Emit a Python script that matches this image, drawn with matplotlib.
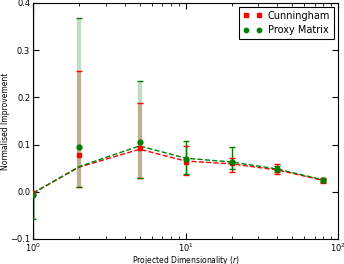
import matplotlib
matplotlib.use('Agg')
import matplotlib.pyplot as plt
import numpy as np

# Data
dims = [1, 2, 5, 10, 20, 40, 80]

# dashed mean lines
cun_line = [-0.003, 0.052, 0.090, 0.065, 0.059, 0.046, 0.024]
prx_line = [-0.003, 0.053, 0.097, 0.071, 0.063, 0.048, 0.025]

# markers
cun_mark = [-0.003, 0.078, 0.092, 0.064, 0.060, 0.046, 0.024]
prx_mark = [-0.007, 0.095, 0.106, 0.070, 0.062, 0.048, 0.024]

# error bar extents
cun_low = [-0.60, 0.010, 0.030, 0.036, 0.042, 0.038, 0.019]
cun_high = [0.60, 0.256, 0.188, 0.097, 0.072, 0.058, 0.028]
prx_low = [-0.058, 0.010, 0.028, 0.037, 0.048, 0.041, 0.021]
prx_high = [0.000, 0.367, 0.235, 0.108, 0.095, 0.055, 0.027]
err_alpha = [0.35, 0.25, 0.25, 1.0, 1.0, 1.0, 1.0]

red = '#ff0000'
green = '#007f00'
cun_err_col = ['#a0a0a0', red, red, red, red, red, red]

fig = plt.figure(figsize=(3.44, 2.64), dpi=100)
ax = fig.add_axes([0.096, 0.095, 0.887, 0.894])

for i, d in enumerate(dims):
    a = err_alpha[i]
    lw = 3 if a < 1 else 1
    ax.errorbar([d], [cun_mark[i]],
                yerr=[[cun_mark[i] - cun_low[i]], [cun_high[i] - cun_mark[i]]],
                fmt='none', ecolor=cun_err_col[i], elinewidth=lw, capsize=0,
                alpha=a, zorder=2)
    ax.errorbar([d], [prx_mark[i]],
                yerr=[[prx_mark[i] - prx_low[i]], [prx_high[i] - prx_mark[i]]],
                fmt='none', ecolor=green, elinewidth=lw, capsize=0,
                alpha=a, zorder=2)

# caps drawn in full colour
ax.plot(dims, cun_low, '_', color=red, ms=5, mew=1, zorder=3)
ax.plot(dims, cun_high, '_', color=red, ms=5, mew=1, zorder=3)
ax.plot(dims, prx_low, '_', color=green, ms=5, mew=1, zorder=3)
ax.plot(dims[1:], prx_high[1:], '_', color=green, ms=5, mew=1, zorder=3)

ax.plot(dims, cun_line, '--', color=red, lw=1, zorder=3)
ax.plot(dims, prx_line, '--', color=green, lw=1, zorder=3)
ax.plot(dims, cun_mark, 's', color=red, mec=red, ms=3.5, zorder=4,
        label='Cunningham')
ax.plot(dims, prx_mark, 'o', color=green, mec=green, ms=3.5, zorder=5,
        label='Proxy Matrix')

ax.set_xscale('log')
ax.set_xlim(1, 100)
ax.set_ylim(-0.1, 0.4)
ax.set_yticks([-0.1, 0.0, 0.1, 0.2, 0.3, 0.4])
ax.tick_params(which='both', direction='in', top=True, right=True,
               labelsize=6, pad=2)
ax.tick_params(which='major', length=4)
ax.tick_params(which='minor', length=2)

ax.set_xlabel('Projected Dimensionality ($r$)', fontsize=5.5)
ax.set_ylabel('Normalised Improvement', fontsize=5.5)
ax.xaxis.set_label_coords(0.5, -0.064)
ax.yaxis.set_label_coords(-0.075, 0.5)

leg = ax.legend(loc='upper right', fontsize=7, numpoints=2,
                fancybox=False, framealpha=1, edgecolor='black',
                borderaxespad=0.4, handlelength=2.0, handletextpad=0.6,
                borderpad=0.4, labelspacing=0.45, markerscale=0.9)
leg.get_frame().set_linewidth(0.8)

plt.savefig('out.png', dpi=100)
plt.close()
